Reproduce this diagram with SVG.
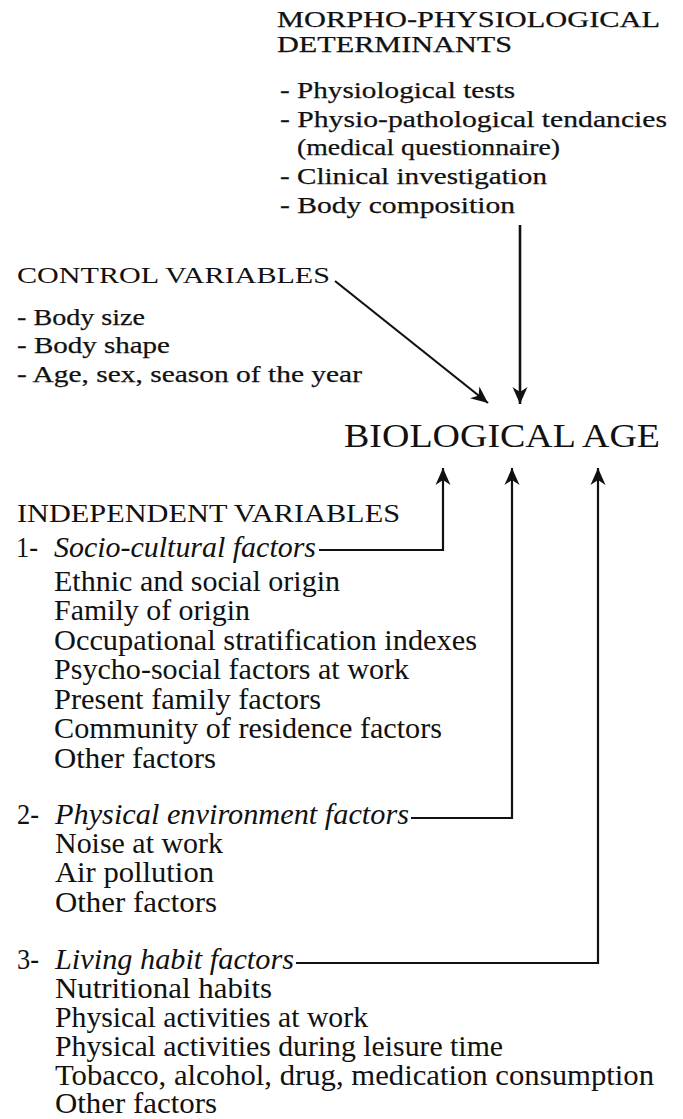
<svg xmlns="http://www.w3.org/2000/svg" width="683" height="1119" viewBox="0 0 683 1119">
<style>
text{font-family:"Liberation Serif","Times New Roman",serif;fill:#111;}
.hd{font-size:24px;stroke:#111;stroke-width:0.25;}
.ls{font-size:24px;stroke:#111;stroke-width:0.25;}
.lo{font-size:30px;}
.it{font-style:italic;}
.big{font-size:33px;}
.con{fill:none;stroke:#111;stroke-width:2.2;}
</style>
<defs>
<marker id="ah" markerUnits="userSpaceOnUse" markerWidth="20" markerHeight="20" viewBox="-18 -10 20 20" refX="0" refY="0" orient="auto">
<path d="M0,0 L-17,-7.5 L-12,0 L-17,7.5 Z" fill="#111"/>
</marker>
</defs>
<rect width="683" height="1119" fill="#fff"/>
<g id="morpho">
<text class="hd" x="277" y="27" textLength="383" lengthAdjust="spacingAndGlyphs">MORPHO-PHYSIOLOGICAL</text>
<text class="hd" x="277" y="52" textLength="235" lengthAdjust="spacingAndGlyphs">DETERMINANTS</text>
<text class="ls" x="280" y="98" textLength="235" lengthAdjust="spacingAndGlyphs">- Physiological tests</text>
<text class="ls" x="280" y="127" textLength="387" lengthAdjust="spacingAndGlyphs">- Physio-pathological tendancies</text>
<text class="ls" x="297" y="155" textLength="263" lengthAdjust="spacingAndGlyphs">(medical questionnaire)</text>
<text class="ls" x="280" y="184" textLength="267" lengthAdjust="spacingAndGlyphs">- Clinical investigation</text>
<text class="ls" x="280" y="213" textLength="235" lengthAdjust="spacingAndGlyphs">- Body composition</text>
</g>
<g id="control">
<text style="font-size:24px" x="17" y="283" textLength="313" lengthAdjust="spacingAndGlyphs">CONTROL VARIABLES</text>
<text class="ls" x="17" y="325" textLength="128" lengthAdjust="spacingAndGlyphs">- Body size</text>
<text class="ls" x="17" y="353" textLength="153" lengthAdjust="spacingAndGlyphs">- Body shape</text>
<text class="ls" x="17" y="382" textLength="345" lengthAdjust="spacingAndGlyphs">- Age, sex, season of the year</text>
</g>
<g id="biological-age">
<text class="big" x="344" y="447" textLength="316" lengthAdjust="spacingAndGlyphs">BIOLOGICAL AGE</text>
</g>
<g id="independent">
<text style="font-size:26px" x="17" y="522" textLength="383" lengthAdjust="spacingAndGlyphs">INDEPENDENT VARIABLES</text>
</g>
<g id="socio-cultural">
<text class="lo" x="16" y="557" textLength="22" lengthAdjust="spacingAndGlyphs">1-</text>
<text class="lo it" x="54" y="557" textLength="262" lengthAdjust="spacingAndGlyphs">Socio-cultural factors</text>
<text class="lo" x="54" y="591" textLength="286" lengthAdjust="spacingAndGlyphs">Ethnic and social origin</text>
<text class="lo" x="54" y="620" textLength="196" lengthAdjust="spacingAndGlyphs">Family of origin</text>
<text class="lo" x="54" y="650" textLength="423" lengthAdjust="spacingAndGlyphs">Occupational stratification indexes</text>
<text class="lo" x="54" y="679" textLength="355" lengthAdjust="spacingAndGlyphs">Psycho-social factors at work</text>
<text class="lo" x="54" y="709" textLength="267" lengthAdjust="spacingAndGlyphs">Present family factors</text>
<text class="lo" x="54" y="738" textLength="388" lengthAdjust="spacingAndGlyphs">Community of residence factors</text>
<text class="lo" x="54" y="768" textLength="162" lengthAdjust="spacingAndGlyphs">Other factors</text>
</g>
<g id="physical-environment">
<text class="lo" x="17" y="824" textLength="22" lengthAdjust="spacingAndGlyphs">2-</text>
<text class="lo it" x="55" y="824" textLength="354" lengthAdjust="spacingAndGlyphs">Physical environment factors</text>
<text class="lo" x="55" y="853" textLength="168" lengthAdjust="spacingAndGlyphs">Noise at work</text>
<text class="lo" x="55" y="882" textLength="159" lengthAdjust="spacingAndGlyphs">Air pollution</text>
<text class="lo" x="55" y="912" textLength="162" lengthAdjust="spacingAndGlyphs">Other factors</text>
</g>
<g id="living-habit">
<text class="lo" x="17" y="969" textLength="22" lengthAdjust="spacingAndGlyphs">3-</text>
<text class="lo it" x="55" y="969" textLength="239" lengthAdjust="spacingAndGlyphs">Living habit factors</text>
<text class="lo" x="55" y="998" textLength="217" lengthAdjust="spacingAndGlyphs">Nutritional habits</text>
<text class="lo" x="55" y="1027" textLength="313" lengthAdjust="spacingAndGlyphs">Physical activities at work</text>
<text class="lo" x="55" y="1056" textLength="448" lengthAdjust="spacingAndGlyphs">Physical activities during leisure time</text>
<text class="lo" x="55" y="1085" textLength="599" lengthAdjust="spacingAndGlyphs">Tobacco, alcohol, drug, medication consumption</text>
<text class="lo" x="55" y="1113" textLength="162" lengthAdjust="spacingAndGlyphs">Other factors</text>
</g>
<g id="connectors">
<path class="con" d="M520,225 L520,404" marker-end="url(#ah)" style="stroke-width:2.6"/>
<path class="con" d="M335,281 L488,403" marker-end="url(#ah)"/>
<path class="con" d="M319,550 L443,550 L443,468" marker-end="url(#ah)"/>
<path class="con" d="M411,818 L512,818 L512,468" marker-end="url(#ah)"/>
<path class="con" d="M296,963 L598,963 L598,468" marker-end="url(#ah)"/>
</g>
</svg>
